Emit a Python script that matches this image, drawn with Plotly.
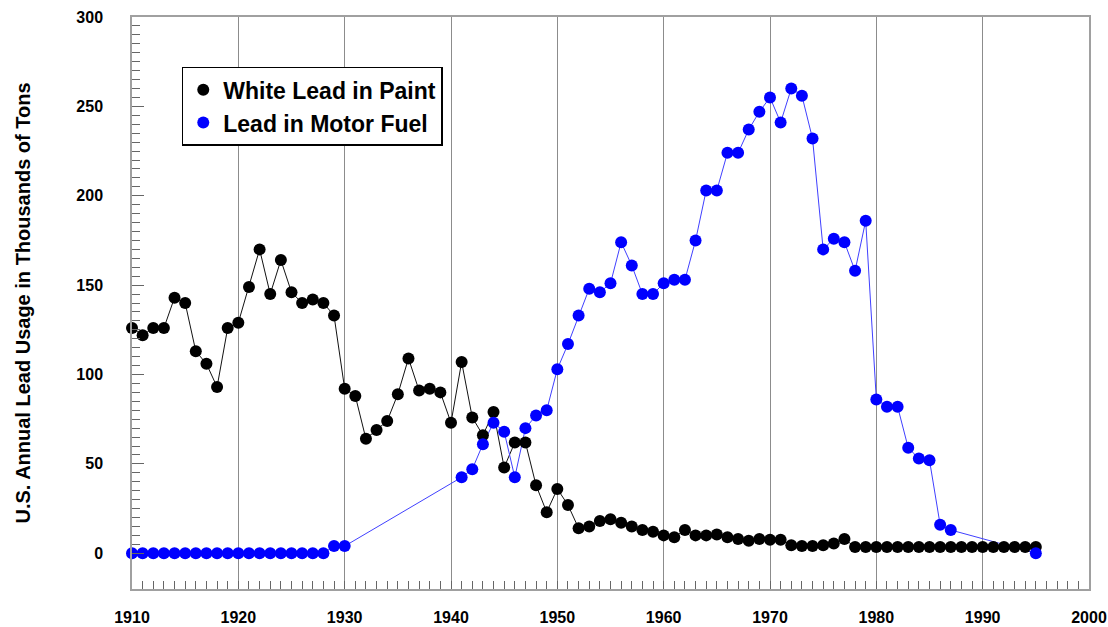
import plotly.graph_objects as go

# ---- Data ----
paint_years = list(range(1910, 1996))
paint_values = [
    126, 122, 126, 126, 143, 140, 113, 106, 93, 126,      # 1910-1919
    129, 149, 170, 145, 164, 146, 140, 142, 140, 133,     # 1920-1929
    92, 88, 64, 69, 74, 89, 109, 91, 92, 90,              # 1930-1939
    73, 107, 76, 66, 79, 48, 62, 62, 38, 23,              # 1940-1949
    36, 27, 14, 15, 18, 19, 17, 15, 13, 12,               # 1950-1959
    10, 9, 13, 10, 10, 10.5, 9, 8, 7, 8,                  # 1960-1969
    7.5, 7.5, 4.5, 4, 4, 4.5, 5.5, 8, 3.5, 3.5,           # 1970-1979
    3.5, 3.5, 3.5, 3.5, 3.5, 3.5, 3.5, 3.5, 3.5, 3.5,     # 1980-1989
    3.5, 3.5, 3.5, 3.5, 3.5, 3.5,                         # 1990-1995
]

fuel_years = list(range(1910, 1931)) + list(range(1941, 1988)) + [1995]
fuel_values = (
    [0] * 19 + [4, 4]                                       # 1910-1930
    + [42.5, 47, 61, 73, 68, 42.5, 70, 77, 80,              # 1941-1949
       103, 117, 133, 148, 146, 151, 174, 161, 145, 145,    # 1950-1959
       151, 153, 153, 175, 203, 203, 224, 224, 237, 247,    # 1960-1969
       255, 241, 260, 256, 232, 170, 176, 174, 158, 186,    # 1970-1979
       86, 82, 82, 59, 53, 52, 16, 13]                      # 1980-1987
    + [0]                                                   # 1995
)

paint_name = "White Lead in Paint"
fuel_name = "Lead in Motor Fuel"
y_title = "U.S. Annual Lead Usage in Thousands of Tons"
x_ticks = list(range(1910, 2001, 10))
y_ticks = list(range(0, 301, 50))
y_minor = [v for v in range(0, 301, 5) if v % 50]

FONT = "Liberation Sans, Arial, sans-serif"

fig = go.Figure()

# lines
fig.add_trace(go.Scatter(x=paint_years, y=paint_values, mode="lines",
                         line=dict(color="#111111", width=1),
                         showlegend=False, hoverinfo="skip"))
fig.add_trace(go.Scatter(x=fuel_years, y=fuel_values, mode="lines",
                         line=dict(color="#4040ff", width=1),
                         showlegend=False, hoverinfo="skip"))
# markers
fig.add_trace(go.Scatter(x=paint_years, y=paint_values, mode="markers",
                         name=paint_name, cliponaxis=False,
                         marker=dict(color="black", size=12, line=dict(width=0))))
fig.add_trace(go.Scatter(x=fuel_years, y=fuel_values, mode="markers",
                         name=fuel_name, cliponaxis=False,
                         marker=dict(color="#0000ff", size=12, line=dict(width=0))))

fig.update_layout(
    width=1108, height=627,
    margin=dict(l=132, r=19, t=17, b=38, autoexpand=False),
    paper_bgcolor="white", plot_bgcolor="white",
    font=dict(family=FONT, color="black"),
    legend=dict(
        x=0.052, y=0.913, xanchor="left", yanchor="top",
        bgcolor="white", bordercolor="black", borderwidth=1.5,
        font=dict(family=FONT, size=23, color="black", weight="bold"),
        itemwidth=30, tracegroupgap=0,
    ),
    xaxis=dict(
        range=[1910, 2000], tickmode="array", tickvals=x_ticks,
        ticks="inside", ticklen=8, tickcolor="#666666", tickwidth=1,
        showgrid=True, gridcolor="#8c8c8c", gridwidth=1,
        showline=True, linecolor="#a0a0a0", linewidth=1.5, mirror=True,
        zeroline=False, automargin=False,
        tickfont=dict(family=FONT, size=16, color="black", weight="bold"),
        ticklabelstandoff=13,
        minor=dict(dtick=1, tick0=1910, ticks="inside", ticklen=8,
                   tickcolor="#666666", showgrid=False),
    ),
    yaxis=dict(
        range=[-20, 300], tickmode="array", tickvals=y_ticks,
        ticks="inside", ticklen=12, tickcolor="#666666", tickwidth=1,
        showgrid=False, zeroline=False, automargin=False,
        showline=True, linecolor="#a0a0a0", linewidth=1.5, mirror=True,
        tickfont=dict(family=FONT, size=16, color="black", weight="bold"),
        ticklabelstandoff=24,
        minor=dict(tickmode="array", tickvals=y_minor, ticks="inside",
                   ticklen=8, tickcolor="#666666", showgrid=False),
        title=dict(text=y_title, standoff=40,
                   font=dict(family=FONT, size=20, color="black", weight="bold")),
    ),
)

fig.write_html("out.html", config={"displayModeBar": False},
               post_script="document.body.style.margin='0px';")
